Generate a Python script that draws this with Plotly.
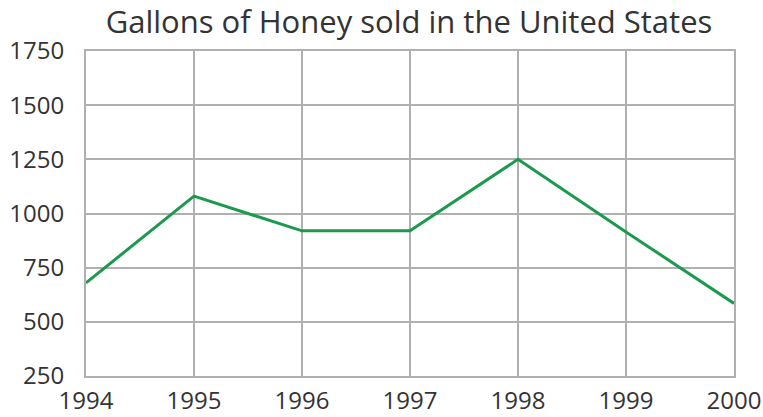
import plotly.graph_objects as go

years = [1994, 1995, 1996, 1997, 1998, 1999, 2000]
gallons = [680, 1080, 920, 920, 1250, 915, 585]
y_ticks = [250, 500, 750, 1000, 1250, 1500, 1750]

grid = "#b0b0b0"
fig = go.Figure()
fig.add_trace(go.Scatter(x=years, y=gallons, mode="lines",
                         line=dict(color="#1b9a4e", width=3)))
fig.update_layout(
    width=763, height=417,
    margin=dict(l=86, r=29, t=51, b=41),
    paper_bgcolor="white", plot_bgcolor="white",
    showlegend=False,
    font=dict(family="Open Sans, Noto Sans, sans-serif", color="#333333", size=24),
    title=dict(text="Gallons of Honey sold in the United States",
               x=409 / 763, xanchor="center", xref="container",
               y=1 - 22 / 417, yanchor="middle", yref="container",
               font=dict(size=31, color="#333333")),
)
fig.update_xaxes(range=[1994, 2000], tickvals=years, ticktext=[str(y) for y in years],
                 showgrid=True, gridcolor=grid, gridwidth=2,
                 showline=True, linecolor=grid, linewidth=2, mirror=True,
                 zeroline=False, ticks="", ticklen=0, ticklabelstandoff=2,
                 automargin=False)
fig.update_yaxes(range=[250, 1750], tickvals=y_ticks,
                 showgrid=True, gridcolor=grid, gridwidth=2,
                 showline=True, linecolor=grid, linewidth=2, mirror=True,
                 zeroline=False, ticks="", ticklabelstandoff=15, automargin=False)
fig.write_html("out.html", config={"displayModeBar": False},
               post_script="document.body.style.margin='0';document.body.style.overflow='hidden';")
